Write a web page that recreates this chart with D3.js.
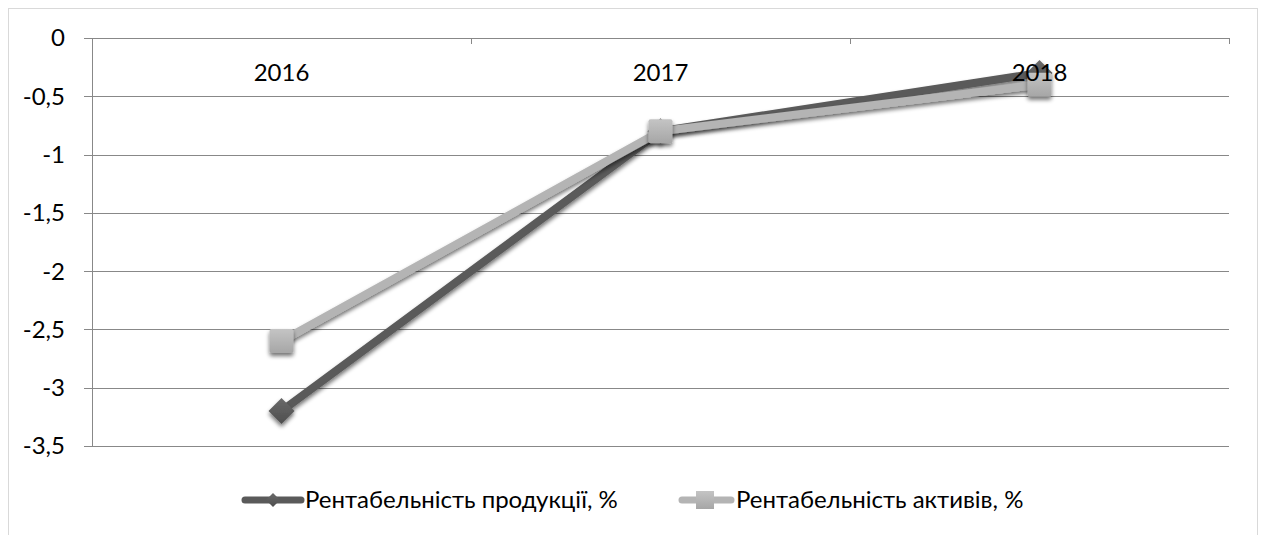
<!DOCTYPE html>
<html><head><meta charset="utf-8">
<script src="https://cdn.jsdelivr.net/npm/d3@7"></script>
<style>body{margin:0;background:#fff}svg{display:block}</style>
</head><body>
<svg id="c" width="1263" height="535"></svg>
<script>
const categories = ["2016", "2017", "2018"];
const seriesNames = ["Рентабельність продукції, %", "Рентабельність активів, %"];
const productReturn = [-3.2, -0.8, -0.3];
const assetReturn = [-2.6, -0.8, -0.4];
const yTicks = [0, -0.5, -1, -1.5, -2, -2.5, -3, -3.5];

const svg = d3.select("#c");
const font = "Lato, 'Open Sans', sans-serif";
const fs = 24;
const m = {left: 92, right: 1229, top: 38, bottom: 446};

// outer border
svg.append("rect").attr("x", 8.5).attr("y", 8.5).attr("width", 1249).attr("height", 540)
  .attr("fill", "none").attr("stroke", "#d9d9d9").attr("stroke-width", 1);

const x = d3.scaleBand().domain(categories).range([m.left, m.right]);
const y = d3.scaleLinear().domain([-3.5, 0]).range([m.bottom, m.top]);

const defs = svg.append("defs");
const f = defs.append("filter").attr("id", "sh").attr("x", "-50%").attr("y", "-50%").attr("width", "200%").attr("height", "200%");
f.append("feGaussianBlur").attr("in", "SourceAlpha").attr("stdDeviation", 2).attr("result", "b");
f.append("feOffset").attr("in", "b").attr("dx", 0).attr("dy", 3).attr("result", "o");
f.append("feComponentTransfer").attr("in", "o").attr("result", "o2")
  .append("feFuncA").attr("type", "linear").attr("slope", 0.55);
const mg = f.append("feMerge");
mg.append("feMergeNode").attr("in", "o2");
mg.append("feMergeNode").attr("in", "SourceGraphic");

function grad(id, c1, c2) {
  const g = defs.append("linearGradient").attr("id", id).attr("x1", 0).attr("y1", 0).attr("x2", 0).attr("y2", 1);
  g.append("stop").attr("offset", "0%").attr("stop-color", c1);
  g.append("stop").attr("offset", "100%").attr("stop-color", c2);
}
grad("gDark", "#6a6a6a", "#4e4e4e");
grad("gLight", "#c4c4c4", "#a6a6a6");

// gridlines
svg.append("g").selectAll("line").data(yTicks).join("line")
  .attr("x1", m.left - 8).attr("x2", m.right)
  .attr("y1", d => Math.round(y(d)) + 0.5).attr("y2", d => Math.round(y(d)) + 0.5)
  .attr("stroke", "#888").attr("stroke-width", 1);

// y axis line
svg.append("line").attr("x1", m.left + 0.5).attr("x2", m.left + 0.5)
  .attr("y1", y(0)).attr("y2", y(-3.5)).attr("stroke", "#888");

// y tick labels
const yFmt = d => (d === 0 ? "0" : String(d).replace(".", ","));
svg.append("g").selectAll("text").data(yTicks).join("text")
  .attr("x", 65).attr("y", d => y(d)).attr("dy", "0.35em")
  .attr("text-anchor", "end").attr("font-family", font).attr("font-size", fs).attr("fill", "#000")
  .text(yFmt);

// category tick marks at top axis (boundaries)
const bounds = categories.map(c => x(c)).concat([m.right]);
svg.append("g").selectAll("line").data(bounds.slice(1)).join("line")
  .attr("x1", d => Math.round(d) + 0.5).attr("x2", d => Math.round(d) + 0.5)
  .attr("y1", y(0)).attr("y2", y(0) + 6).attr("stroke", "#888");

const cx = c => x(c) + x.bandwidth() / 2;
const line = d3.line().x((d, i) => cx(categories[i])).y(d => y(d));

const series = [
  {name: seriesNames[0], values: productReturn, color: "#5a5a5a", fill: "url(#gDark)", shape: "diamond"},
  {name: seriesNames[1], values: assetReturn, color: "#b4b4b4", fill: "url(#gLight)", shape: "square"}
];

function marker(g, shape, fill, px, py) {
  if (shape === "diamond") {
    const s = 13;
    g.append("path").attr("d", `M${px},${py - s}L${px + s},${py}L${px},${py + s}L${px - s},${py}Z`)
      .attr("fill", fill).attr("filter", "url(#sh)");
  } else {
    const s = 12;
    g.append("rect").attr("x", px - s).attr("y", py - s).attr("width", 2 * s).attr("height", 2 * s)
      .attr("rx", 2).attr("fill", fill).attr("filter", "url(#sh)");
  }
}

series.forEach(s => {
  const g = svg.append("g");
  g.append("path").datum(s.values).attr("d", line)
    .attr("fill", "none").attr("stroke", s.color).attr("stroke-width", 8)
    .attr("stroke-linejoin", "round").attr("filter", "url(#sh)");
  s.values.forEach((v, i) => marker(g, s.shape, s.fill, cx(categories[i]), y(v)));
});

// category labels
svg.append("g").selectAll("text").data(categories).join("text")
  .attr("x", d => cx(d)).attr("y", 73).attr("dy", "0.35em")
  .attr("text-anchor", "middle").attr("font-family", font).attr("font-size", fs).attr("fill", "#000")
  .text(d => d);

// legend
const legendItems = [
  {s: series[0], x1: 245, x2: 301, mx: 273, tx: 305},
  {s: series[1], x1: 682, x2: 731, mx: 705, tx: 736}
];
legendItems.forEach(it => {
  const g = svg.append("g");
  g.append("line").attr("x1", it.x1).attr("x2", it.x2).attr("y1", 500).attr("y2", 500)
    .attr("stroke", it.s.color).attr("stroke-width", 7).attr("stroke-linecap", "round");
  if (it.s.shape === "diamond") {
    const s = 7;
    g.append("path").attr("d", `M${it.mx},${500 - s}L${it.mx + s},500L${it.mx},${500 + s}L${it.mx - s},500Z`)
      .attr("fill", it.s.fill);
  } else {
    g.append("rect").attr("x", it.mx - 9).attr("y", 491).attr("width", 18).attr("height", 18)
      .attr("fill", it.s.fill);
  }
  g.append("text").attr("x", it.tx).attr("y", 500).attr("dy", "0.35em")
    .attr("font-family", font).attr("font-size", fs).attr("fill", "#000").text(it.s.name);
});
</script>
</body></html>
